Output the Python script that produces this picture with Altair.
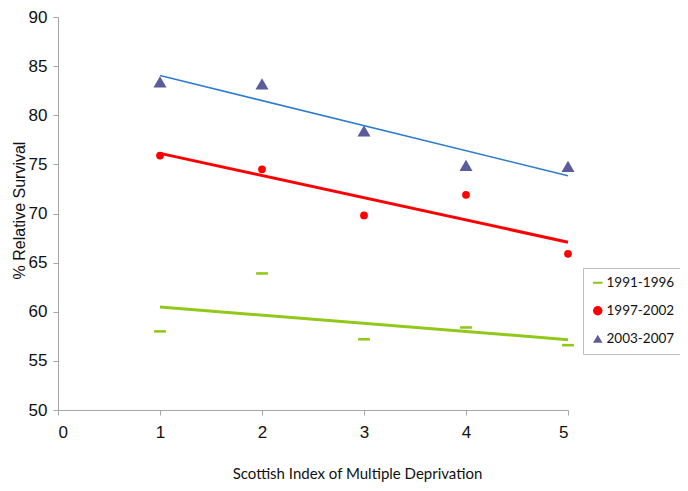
import altair as alt
import pandas as pd

x_vals = [1, 2, 3, 4, 5]
series_names = ["1991-1996", "1997-2002", "2003-2007"]
s1991 = [58.0, 63.9, 57.2, 58.4, 56.6]
s1997 = [75.9, 74.5, 69.8, 71.9, 65.9]
s2003 = [83.4, 83.2, 78.4, 74.9, 74.8]

x_ticks = [0, 1, 2, 3, 4, 5]
y_ticks = [50, 55, 60, 65, 70, 75, 80, 85, 90]

marker_colors = ["#92C81A", "#FF0000", "#5C5C9C"]
line_colors = ["#92C81A", "#FF0000", "#2E7BCF"]
dash_path = "M-1,-0.22H1V0.22H-1Z"
shapes = [dash_path, "circle", "triangle-up"]
marker_sizes = [140, 60, 170]
line_widths = [3, 3, 1.5]

rows = []
for name, vals, sz, lc, lw in zip(series_names, [s1991, s1997, s2003],
                                  marker_sizes, line_colors, line_widths):
    for xv, yv in zip(x_vals, vals):
        rows.append({"x": xv, "y": yv, "series": name, "sz": sz, "lc": lc, "lw": lw})
df = pd.DataFrame(rows)

x_enc = alt.X("x:Q", scale=alt.Scale(domain=[0, 5], nice=False, zero=False),
              axis=alt.Axis(values=x_ticks, format="d",
                            title="Scottish Index of Multiple Deprivation",
                            titleX=299, titleY=63, titleBaseline="middle",
                            titleFont="Lato", titleFontSize=15,
                            labelPadding=9))
y_enc = alt.Y("y:Q", scale=alt.Scale(domain=[50, 90], nice=False, zero=False),
              axis=alt.Axis(values=y_ticks, format="d", title="% Relative Survival",
                            titleX=-39, titleY=193, titleAlign="center",
                            titleBaseline="middle", titleFont="Liberation Sans",
                            titleFontSize=16, labelPadding=6))

points = alt.Chart(df).mark_point(filled=True, opacity=1).encode(
    x=x_enc,
    y=y_enc,
    color=alt.Color("series:N", scale=alt.Scale(domain=series_names, range=marker_colors),
                    title=None,
                    legend=alt.Legend(orient="none", legendX=525, legendY=251,
                                      strokeColor="#BFBFBF", padding=8, rowPadding=13,
                                      labelFont="Lato", labelFontSize=13.5,
                                      labelColor="#111111", labelOffset=2,
                                      fillColor="white", symbolSize=90,
                                      symbolStrokeWidth=0)),
    shape=alt.Shape("series:N", scale=alt.Scale(domain=series_names, range=shapes),
                    title=None),
    size=alt.Size("sz:Q", scale=None),
)

lines = alt.Chart(df).transform_regression(
    "x", "y", groupby=["series", "lc", "lw"]
).mark_line().encode(
    x="x:Q",
    y="y:Q",
    detail="series:N",
    stroke=alt.Stroke("lc:N", scale=None),
    strokeWidth=alt.StrokeWidth("lw:Q", scale=None),
)

chart = alt.layer(points, lines).properties(
    width=510,
    height=393,
    autosize=alt.AutoSizeParams(type="none"),
    padding={"left": 50, "top": 9, "right": 112, "bottom": 73},
).configure_view(
    stroke=None
).configure_axis(
    domainColor="#A6A6A6",
    tickColor="#A6A6A6",
    tickSize=5,
    grid=False,
    labelFont="Liberation Sans",
    labelFontSize=17,
    labelColor="#111111",
    titleFontWeight="normal",
    titleColor="#111111",
)

chart.save("out.html", embed_options={"renderer": "svg", "actions": False})
